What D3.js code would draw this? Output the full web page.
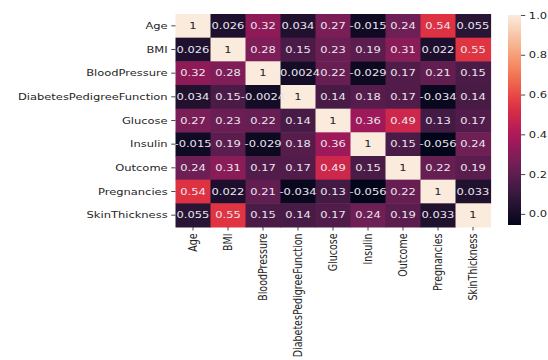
<!DOCTYPE html>
<html>
<head>
<meta charset="utf-8">
<script src="https://cdn.jsdelivr.net/npm/d3@7"></script>
<style>
  body { margin: 0; background: #fff; }
  text { font-family: "DejaVu Sans", sans-serif; }
</style>
</head>
<body>
<svg id="chart" width="548" height="360"></svg>
<script>
// variables in the correlation matrix (same order for rows and columns)
const features = ['Age', 'BMI', 'BloodPressure', 'DiabetesPedigreeFunction', 'Glucose',
  'Insulin', 'Outcome', 'Pregnancies', 'SkinThickness'];

// one row per feature
const rowAge       = [1, 0.026, 0.32, 0.034, 0.27, -0.015, 0.24, 0.54, 0.055];
const rowBMI       = [0.026, 1, 0.28, 0.15, 0.23, 0.19, 0.31, 0.022, 0.55];
const rowBP        = [0.32, 0.28, 1, -0.0024, 0.22, -0.029, 0.17, 0.21, 0.15];
const rowDPF       = [0.034, 0.15, -0.0024, 1, 0.14, 0.18, 0.17, -0.034, 0.14];
const rowGlucose   = [0.27, 0.23, 0.22, 0.14, 1, 0.36, 0.49, 0.13, 0.17];
const rowInsulin   = [-0.015, 0.19, -0.029, 0.18, 0.36, 1, 0.15, -0.056, 0.24];
const rowOutcome   = [0.24, 0.31, 0.17, 0.17, 0.49, 0.15, 1, 0.22, 0.19];
const rowPreg      = [0.54, 0.022, 0.21, -0.034, 0.13, -0.056, 0.22, 1, 0.033];
const rowSkin      = [0.055, 0.55, 0.15, 0.14, 0.17, 0.24, 0.19, 0.033, 1];

const colorbarTicks = [0, 0.2, 0.4, 0.6, 0.8, 1.0];

const matrix = [rowAge, rowBMI, rowBP, rowDPF, rowGlucose, rowInsulin, rowOutcome, rowPreg, rowSkin];

// rocket-ish palette stops
const rocket = ['#03051a', '#35193e', '#701f57', '#ad1759', '#e13342', '#f37651', '#f6b48f', '#faebdd'];

// the picture was squeezed: everything is a bit wider than tall
const sx = 1.21;
const svg = d3.select('#chart');
const root = svg.append('g').attr('transform', `scale(${sx},1)`);

const plotL = 175.5 / sx, plotR = 490.5 / sx, plotT = 14, plotB = 227;

const vmin = d3.min(matrix, r => d3.min(r));
const vmax = d3.max(matrix, r => d3.max(r));
const color = d3.scaleSequential(d3.piecewise(d3.interpolateRgb, rocket)).domain([vmin, vmax]);

const x = d3.scaleBand().domain(features).range([plotL, plotR]);
const y = d3.scaleBand().domain(features).range([plotT, plotB]);

const cells = [];
matrix.forEach((row, i) => row.forEach((v, j) => cells.push({ r: features[i], c: features[j], v })));

const fmt = v => String(Number(v.toPrecision(2)));

const g = root.append('g');
g.selectAll('rect').data(cells).enter().append('rect')
  .attr('x', d => x(d.c))
  .attr('y', d => y(d.r))
  .attr('width', x.bandwidth() + 0.5)
  .attr('height', y.bandwidth() + 0.5)
  .attr('fill', d => color(d.v));

g.selectAll('text.annot').data(cells).enter().append('text')
  .attr('class', 'annot')
  .attr('x', d => x(d.c) + x.bandwidth() / 2)
  .attr('y', d => y(d.r) + y.bandwidth() / 2)
  .attr('text-anchor', 'middle')
  .attr('dy', '0.35em')
  .attr('font-size', 9.5)
  .attr('fill', d => {
    const c = d3.rgb(color(d.v));
    const lum = 0.2126 * c.r + 0.7152 * c.g + 0.0722 * c.b;
    return lum > 102 ? '#262626' : '#eae6ee';
  })
  .text(d => fmt(d.v));

// axes
const yAxis = root.append('g').attr('transform', `translate(${plotL},0)`)
  .call(d3.axisLeft(y).tickSize(3.5).tickPadding(3));
const xAxis = root.append('g').attr('transform', `translate(0,${plotB})`)
  .call(d3.axisBottom(x).tickSize(3.5).tickPadding(3));

[yAxis, xAxis].forEach(a => {
  a.select('.domain').remove();
  a.selectAll('line').attr('stroke', '#333').attr('stroke-width', 0.8);
  a.selectAll('text').attr('font-size', 9.5).attr('fill', '#262626')
    .style('font-family', '"DejaVu Sans", sans-serif');
});
xAxis.selectAll('text')
  .attr('transform', 'rotate(-90)')
  .attr('text-anchor', 'end')
  .attr('x', -6.5)
  .attr('y', 0)
  .attr('dy', '0.35em');

// colorbar
const cbX = 508 / sx, cbW = 13 / sx, cbTop = 15, cbBottom = 225;
const cy = d3.scaleLinear().domain([vmin, vmax]).range([cbBottom, cbTop]);
const defs = svg.append('defs');
const grad = defs.append('linearGradient').attr('id', 'cbar')
  .attr('x1', 0).attr('y1', 1).attr('x2', 0).attr('y2', 0);
d3.range(0, 1.0001, 0.05).forEach(t => {
  grad.append('stop').attr('offset', t).attr('stop-color', color(vmin + t * (vmax - vmin)));
});
root.append('rect').attr('x', cbX).attr('y', cbTop).attr('width', cbW)
  .attr('height', cbBottom - cbTop).attr('fill', 'url(#cbar)');

const cbAxis = root.append('g').attr('transform', `translate(${cbX + cbW},0)`)
  .call(d3.axisRight(cy).tickValues(colorbarTicks).tickFormat(d3.format('.1f')).tickSize(3.5).tickPadding(3));
cbAxis.select('.domain').remove();
cbAxis.selectAll('line').attr('stroke', '#333').attr('stroke-width', 0.8);
cbAxis.selectAll('text').attr('font-size', 9.5).attr('fill', '#262626')
  .style('font-family', '"DejaVu Sans", sans-serif');
</script>
</body>
</html>
